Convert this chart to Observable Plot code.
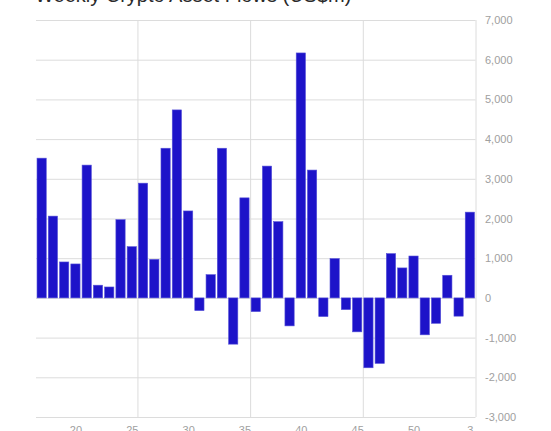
<!DOCTYPE html>
<html>
<head>
<meta charset="utf-8">
<script src="https://cdn.jsdelivr.net/npm/d3@7"></script>
<script src="https://cdn.jsdelivr.net/npm/@observablehq/plot@0.6"></script>
<style>
  html, body { margin: 0; padding: 0; background: #fff; overflow: hidden; }
  #wrap { position: relative; width: 551px; height: 431px; }
  #title { position: absolute; left: 35px; top: -16px; font: 20px "Liberation Sans", Arial, sans-serif; color: #2a2a2a; white-space: nowrap; }
</style>
</head>
<body>
<div id="wrap">
  <div id="title">Weekly Crypto Asset Flows (US$m)</div>
  <div id="chart"></div>
</div>
<script>
const weeks = [17,18,19,20,21,22,23,24,25,26,27,28,29,30,31,32,33,34,35,36,37,38,39,40,41,42,43,44,45,46,47,48,49,50,51,52,1,2,3];
const flows = [3520,2060,905,855,3345,320,275,1970,1290,2890,970,3770,4735,2190,-320,585,3770,-1165,2520,-345,3320,1920,-705,6170,3220,-470,990,-295,-855,-1760,-1650,1115,755,1055,-930,-640,570,-460,2160];
const xTickWeeks = [20,25,30,35,40,45,50,3];
const gridAfterWeeks = [25,35,45];
const yTicks = [-3000,-2000,-1000,0,1000,2000,3000,4000,5000,6000,7000];

const data = weeks.map((w, i) => ({i, week: w, value: flows[i]}));
const idxOf = w => weeks.indexOf(w);
const n = weeks.length;

const fmt = d => d.toLocaleString("en-US");

const chart = Plot.plot({
  width: 551,
  height: 431,
  marginLeft: 36,
  marginRight: 75.5,
  marginTop: 20,
  marginBottom: 14,
  style: {fontFamily: "'Liberation Sans', Arial, sans-serif", fontSize: "11px", background: "#fff"},
  x: {type: "linear", domain: [-0.5, n - 0.5], label: null},
  y: {domain: [-3000, 7000], label: null},
  marks: [
    Plot.ruleY(yTicks, {stroke: "#dcdcdc", strokeWidth: 1}),
    Plot.ruleX([...gridAfterWeeks.map(w => idxOf(w) + 0.5), n - 0.5], {stroke: "#dcdcdc", strokeWidth: 1}),
    Plot.rectY(data, {x1: d => d.i - 0.41, x2: d => d.i + 0.41, y1: 0, y2: "value", fill: "#1d13c9", stroke: "#5550d8", strokeWidth: 0.6}),
    Plot.axisY({anchor: "right", ticks: yTicks, tickFormat: fmt, tickSize: 0, tickPadding: 9, color: "#a0a0a0", fontSize: 11, label: null}),
    Plot.axisX({anchor: "bottom", ticks: xTickWeeks.map(idxOf), tickFormat: i => String(weeks[i]), tickSize: 0, tickPadding: 9, color: "#a0a0a0", fontSize: 11, label: null})
  ]
});
document.getElementById("chart").appendChild(chart);
</script>
</body>
</html>
